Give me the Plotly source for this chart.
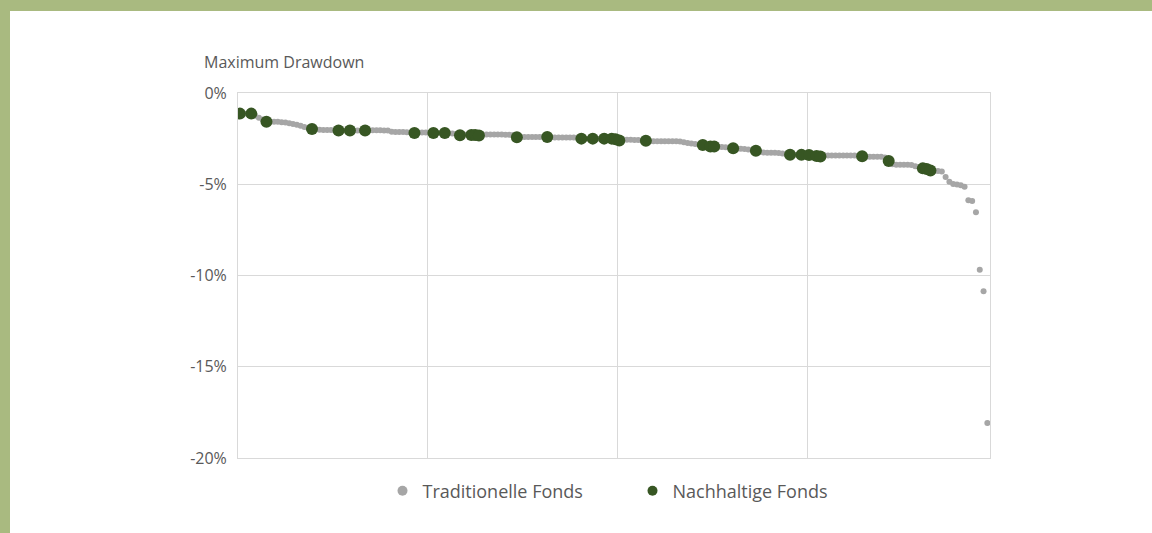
import plotly.graph_objects as go

# Maximum drawdown (%) of all funds, sorted (rank 1..198)
traditional_dd = [
    -1.13, -1.13, -1.14, -1.13, -1.25, -1.35, -1.45, -1.57, -1.57, -1.58,
    -1.58, -1.60, -1.62, -1.66, -1.70, -1.74, -1.80, -1.86, -1.92, -1.97,
    -2.00, -2.02, -2.03, -2.03, -2.03, -2.04, -2.06, -2.05, -2.05, -2.06,
    -2.05, -2.05, -2.05, -2.06, -2.04, -2.04, -2.04, -2.04, -2.05, -2.05,
    -2.12, -2.14, -2.14, -2.14, -2.15, -2.16, -2.18, -2.17, -2.17, -2.17,
    -2.18, -2.18, -2.19, -2.19, -2.18, -2.21, -2.22, -2.24, -2.30, -2.28,
    -2.28, -2.29, -2.29, -2.31, -2.29, -2.28, -2.28, -2.28, -2.28, -2.28,
    -2.29, -2.29, -2.30, -2.42, -2.41, -2.41, -2.41, -2.41, -2.41, -2.41,
    -2.41, -2.41, -2.43, -2.44, -2.44, -2.44, -2.44, -2.44, -2.44, -2.46,
    -2.50, -2.50, -2.50, -2.50, -2.50, -2.50, -2.50, -2.51, -2.51, -2.54,
    -2.60, -2.56, -2.56, -2.56, -2.57, -2.58, -2.60, -2.62, -2.65, -2.65,
    -2.65, -2.65, -2.65, -2.65, -2.65, -2.65, -2.66, -2.70, -2.74, -2.77,
    -2.79, -2.82, -2.85, -2.89, -2.93, -2.93, -2.95, -2.96, -2.97, -2.99,
    -3.03, -3.05, -3.05, -3.07, -3.10, -3.13, -3.16, -3.22, -3.26, -3.27,
    -3.27, -3.28, -3.29, -3.32, -3.36, -3.38, -3.38, -3.38, -3.39, -3.39,
    -3.40, -3.42, -3.45, -3.48, -3.42, -3.42, -3.42, -3.42, -3.42, -3.42,
    -3.42, -3.42, -3.43, -3.45, -3.47, -3.49, -3.49, -3.49, -3.49, -3.49,
    -3.53, -3.72, -3.90, -3.93, -3.93, -3.93, -3.93, -3.95, -4.02, -4.07,
    -4.13, -4.16, -4.25, -4.27, -4.27, -4.30, -4.60, -4.86, -4.98, -5.02,
    -5.05, -5.14, -5.88, -5.92, -6.54, -9.69, -10.86, -18.08,
]
traditional_rank = list(range(1, len(traditional_dd) + 1))

# Sustainable funds: rank within the combined list and drawdown (%)
sustainable_rank = [
    1, 4, 8, 20, 27, 30, 34, 47, 52, 55, 59, 62, 63, 64,
    74, 82, 91, 94, 97, 99, 100, 101, 108, 123, 125, 126, 131,
    137, 146, 149, 151, 153, 154, 165, 172, 181, 182, 183,
]
sustainable_dd = [
    -1.13, -1.13, -1.57, -1.97, -2.06, -2.06, -2.06, -2.19, -2.19, -2.19,
    -2.32, -2.30, -2.30, -2.33, -2.43, -2.41, -2.50, -2.50, -2.50, -2.50,
    -2.54, -2.60, -2.62, -2.85, -2.93, -2.93, -3.03, -3.16, -3.38, -3.39,
    -3.40, -3.45, -3.48, -3.47, -3.72, -4.13, -4.16, -4.25,
]

series_names = ["Traditionelle Fonds", "Nachhaltige Fonds"]
y_ticks = [0, -5, -10, -15, -20]
y_title = "Maximum Drawdown"

GRAY = "#a6a6a6"
GREEN = "#375623"
TEXT = "#595959"
GRID = "#d9d9d9"
FRAME = "#a9ba80"
FONT = "Open Sans"

fig = go.Figure()
fig.add_trace(go.Scatter(
    x=traditional_rank, y=traditional_dd, mode="markers",
    marker=dict(color=GRAY, size=6, line=dict(width=0)),
    showlegend=False, hoverinfo="skip",
))
fig.add_trace(go.Scatter(
    x=sustainable_rank, y=sustainable_dd, mode="markers",
    marker=dict(color=GREEN, size=12, line=dict(width=0)),
    showlegend=False, hoverinfo="skip",
))
# legend entries
fig.add_trace(go.Scatter(x=[None], y=[None], mode="markers", name=series_names[0],
                         marker=dict(color=GRAY, size=10)))
fig.add_trace(go.Scatter(x=[None], y=[None], mode="markers", name=series_names[1],
                         marker=dict(color=GREEN, size=10)))

W, H = 1152, 533
ml, mr, mt, mb = 238, 162, 93, 75
pw, ph = W - ml - mr, H - mt - mb

def px_x(p):
    return (p - ml) / pw

def px_y(p):
    return (H - mb - p) / ph

fig.update_layout(
    width=W, height=H,
    margin=dict(l=ml, r=mr, t=mt, b=mb, pad=0),
    paper_bgcolor="white", plot_bgcolor="white",
    font=dict(family=FONT, size=16, color=TEXT),
    showlegend=True,
    legend=dict(orientation="h", x=px_x(632.5), xanchor="center", y=px_y(491), yanchor="middle",
                font=dict(family=FONT, size=18, color=TEXT),
                entrywidth=205, itemwidth=30, bgcolor="rgba(0,0,0,0)"),
    xaxis=dict(range=[0.5, 198.7], tick0=0.5, dtick=50, showticklabels=False,
               showgrid=True, gridcolor=GRID, gridwidth=1, zeroline=False,
               showline=True, linecolor=GRID, linewidth=1, mirror=True, ticks=""),
    yaxis=dict(range=[-20, 0], tickvals=y_ticks, ticktext=[f"{v}%" for v in y_ticks],
               showgrid=True, gridcolor=GRID, gridwidth=1, zeroline=False,
               showline=True, linecolor=GRID, linewidth=1, mirror=True, ticks="",
               ticklabelstandoff=7, tickfont=dict(family=FONT, size=16, color=TEXT)),
    shapes=[
        dict(type="rect", xref="paper", yref="paper", x0=px_x(-20), x1=px_x(W + 20),
             y0=px_y(11), y1=px_y(-20), fillcolor=FRAME, line=dict(width=0), layer="below"),
        dict(type="rect", xref="paper", yref="paper", x0=px_x(-20), x1=px_x(10),
             y0=px_y(H + 20), y1=px_y(-20), fillcolor=FRAME, line=dict(width=0), layer="below"),
    ],
    annotations=[dict(text=y_title, xref="paper", yref="paper", x=px_x(202), y=px_y(62),
                      xanchor="left", yanchor="middle", showarrow=False,
                      font=dict(family=FONT, size=16, color=TEXT))],
)

fig.write_html("out.html", config={"displayModeBar": False},
               post_script="document.body.style.margin='0';document.body.style.overflow='hidden';")
